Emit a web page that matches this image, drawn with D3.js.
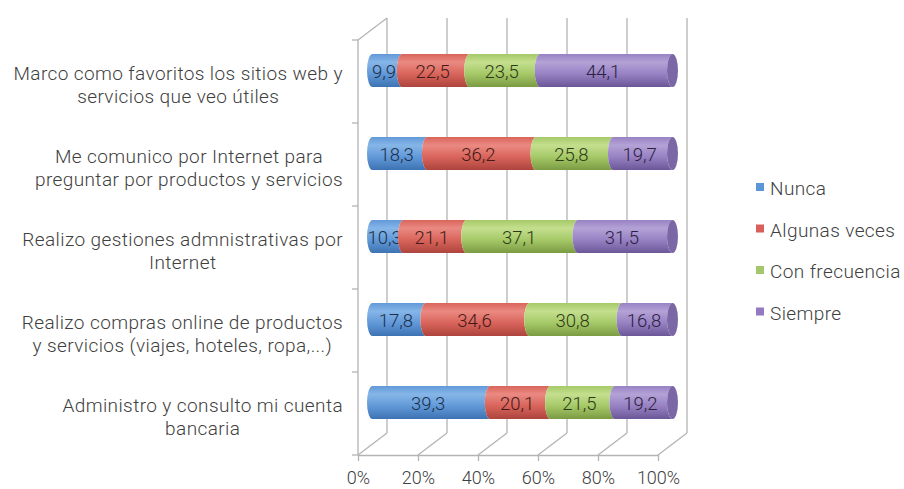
<!DOCTYPE html>
<html><head><meta charset="utf-8">
<script src="https://cdn.jsdelivr.net/npm/d3@7"></script>
<style>
html,body{margin:0;padding:0;background:#fff;}
svg{display:block;font-family:Roboto,"Noto Sans",sans-serif;}
</style></head>
<body>
<svg id="c" width="904" height="489"></svg>
<script>
const categories = [
  ["Marco como favoritos los sitios web y","servicios que veo útiles"],
  ["Me comunico por Internet para","preguntar por productos y servicios"],
  ["Realizo gestiones admnistrativas por","Internet"],
  ["Realizo compras online de productos","y servicios (viajes, hoteles, ropa,...)"],
  ["Administro y consulto mi cuenta","bancaria"]
];
const seriesNames = ["Nunca","Algunas veces","Con frecuencia","Siempre"];
const nunca      = [9.9, 18.3, 10.3, 17.8, 39.3];
const algunas    = [22.5, 36.2, 21.1, 34.6, 20.1];
const frecuencia = [23.5, 25.8, 37.1, 30.8, 21.5];
const siempre    = [44.1, 19.7, 31.5, 16.8, 19.2];
const tickValues = [0, 0.2, 0.4, 0.6, 0.8, 1];

const series = [nunca, algunas, frecuencia, siempre];
const colors = [
  {top:"#86b6e8", mid:"#6299d8", bot:"#3d73b2", cap:"#4d83c2", text:"#1c3049"},
  {top:"#ea8a82", mid:"#d9655c", bot:"#ad443d", cap:"#bd524b", text:"#451a17"},
  {top:"#c4df8e", mid:"#a6c968", bot:"#7b9b43", cap:"#8cac54", text:"#2c3a16"},
  {top:"#b3a2d6", mid:"#9882c4", bot:"#6b5798", cap:"#7b67a6", text:"#2b2240"}
];
const legendColors = ["#5b97d6","#d9605a","#a3c76a","#9479c0"];

const svg = d3.select("#c");
const DX = 29, DY = -22;          // depth offset (front -> back)
const x = d3.scaleLinear().domain([0,1]).range([358,658]);
const y = d3.scaleBand().domain(d3.range(categories.length)).range([40,455]);
const yEdge = d3.scaleLinear().domain([0,categories.length]).range([40,455]);
const grid = "#b4b4b4";

// gradients
const defs = svg.append("defs");
colors.forEach((c,i)=>{
  const g = defs.append("linearGradient").attr("id","g"+i).attr("x1",0).attr("x2",0).attr("y1",0).attr("y2",1);
  g.append("stop").attr("offset","0%").attr("stop-color",c.mid);
  g.append("stop").attr("offset","25%").attr("stop-color",c.top);
  g.append("stop").attr("offset","60%").attr("stop-color",c.mid);
  g.append("stop").attr("offset","100%").attr("stop-color",c.bot);
});

// walls
const walls = svg.append("g").attr("fill","none").attr("stroke",grid).attr("stroke-width",1.3);
tickValues.forEach(t=>{
  walls.append("line").attr("x1",x(t)+DX).attr("x2",x(t)+DX).attr("y1",yEdge(0)+DY).attr("y2",yEdge(categories.length)+DY);
  walls.append("line").attr("x1",x(t)).attr("x2",x(t)+DX).attr("y1",yEdge(categories.length)).attr("y2",yEdge(categories.length)+DY);
});
walls.append("line").attr("x1",x(0)).attr("x2",x(0)).attr("y1",yEdge(0)).attr("y2",yEdge(categories.length));
walls.append("line").attr("x1",x(0)).attr("x2",x(0)+DX).attr("y1",yEdge(0)).attr("y2",yEdge(0)+DY);
d3.range(categories.length+1).forEach(k=>{
  walls.append("line").attr("x1",x(0)-6).attr("x2",x(0)).attr("y1",yEdge(k)).attr("y2",yEdge(k));
});

// bottom axis
const axis = d3.axisBottom(x).tickValues(tickValues).tickFormat(d3.format(".0%")).tickSize(6).tickSizeOuter(0).tickPadding(10);
const ag = svg.append("g").attr("transform",`translate(0,${yEdge(categories.length)})`).call(axis);
ag.select(".domain").attr("stroke",grid).attr("stroke-width",1.3);
ag.selectAll(".tick line").attr("stroke",grid).attr("stroke-width",1.3);
ag.selectAll(".tick text").attr("font-size",18).attr("fill","#404040").attr("font-family","Roboto,sans-serif").attr("font-weight",300);

// cylinders
const rx = 5.5;
const cx = v => x(v) + DX/2;
const bh = 33;
categories.forEach((cat,i)=>{
  const total = d3.sum(series, s=>s[i]);
  const cyc = y(i) + y.bandwidth()/2 + DY/2;
  const top = cyc - bh/2, bot = cyc + bh/2, ry = bh/2;
  let acc = 0;
  const g = svg.append("g");
  series.forEach((s,j)=>{
    const v0 = acc/total, v1 = (acc + s[i])/total;
    acc += s[i];
    const x0 = cx(v0), x1 = cx(v1);
    const p = `M${x0},${top} A${rx},${ry} 0 0 0 ${x0},${bot} L${x1},${bot} A${rx},${ry} 0 0 1 ${x1},${top} Z`;
    g.append("path").attr("d",p).attr("fill",`url(#g${j})`);
    if (j === series.length-1) {
      g.append("ellipse").attr("cx",x1).attr("cy",cyc).attr("rx",rx).attr("ry",ry).attr("fill",colors[j].cap);
    }
    g.append("text").attr("x",(x0+x1)/2 - rx*0.6).attr("y",cyc+7)
      .attr("text-anchor","middle").attr("font-size",18.5).attr("font-weight",300)
      .attr("fill",colors[j].text).text(d3.format(".1f")(s[i]).replace(".",","));
  });
});

// category labels
const labelRight = 343;
categories.forEach((lines,i)=>{
  const cyL = y(i) + y.bandwidth()/2 + 2.5;
  const g = svg.append("g");
  const ts = lines.map((l,k)=> g.append("text").attr("font-size",19).attr("font-weight",300).attr("fill","#404040")
      .attr("letter-spacing",0.4)
      .attr("text-anchor","middle").attr("y", cyL + (k - (lines.length-1)/2)*23 + 7).text(l));
  const w = d3.max(ts, t=>t.node().getComputedTextLength());
  ts.forEach(t=>t.attr("x", labelRight - w/2));
});

// legend
const lg = svg.append("g");
seriesNames.forEach((n,i)=>{
  const yy = 188 + i*41.5;
  lg.append("rect").attr("x",756).attr("y",yy-5).attr("width",8).attr("height",8).attr("fill",legendColors[i]);
  lg.append("text").attr("x",770).attr("y",yy+7).attr("font-size",19).attr("letter-spacing",0.4).attr("font-weight",300).attr("fill","#404040").text(n);
});
</script>
</body></html>
